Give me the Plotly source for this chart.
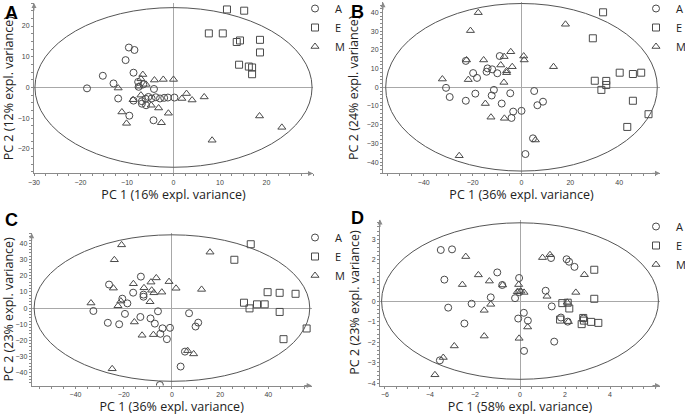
import plotly.graph_objects as go

W, H = 685, 415

# ---------------- Panel A data ----------------
pA_A_x = [-18.6, -15.2, -12.9, -11.9, -9.6, -8.4, -10.3, -8.6, -9.5, -8.6, -7.5, -7.6, -6.5, -6.8, -6.0, -5.4, -4.7, -4.2, -4.3, -3.8, -2.9, -2.0, -1.2, 0.2, -5.9, -6.8]
pA_A_y = [-0.3, 3.8, 1.3, -3.6, 13.0, 12.2, 8.9, 4.8, -9.2, -4.3, 0.2, 1.8, 1.0, -5.3, -3.7, -3.1, -3.6, -0.5, -10.7, -3.2, -3.6, -3.4, -3.3, -3.3, -5.8, -4.5]
pA_E_x = [11.5, 15.2, 7.6, 10.6, 13.6, 14.3, 18.6, 18.6, 14.1, 16.2, 16.9, 16.9]
pA_E_y = [25.4, 25.0, 17.6, 17.6, 14.8, 15.3, 15.5, 11.4, 7.4, 6.8, 6.5, 4.3]
pA_M_x = [-11.9, -11.1, -10.1, -8.7, -6.6, -7.0, -5.9, -4.1, -2.2, 0.0, -7.0, -4.8, -3.2, -1.1, -2.6, 1.8, 2.8, 4.0, 6.6, 8.3, 18.5, 23.3, -7.4]
pA_M_y = [-0.2, -8.0, -11.7, -4.0, 4.2, 2.8, 1.0, 2.4, 2.6, 2.6, -2.5, -5.8, -6.7, -8.4, -11.5, -3.6, -2.0, -4.1, -3.1, -17.2, -9.3, -13.0, 0.4]

# ---------------- Panel B data ----------------
pB_A_x = [-22.8, -19.8, -18.2, -30.9, -29.4, -22.8, -18.9, -13.9, -12.0, -9.9, -14.3, -11.3, -12.2, -8.1, -8.9, -4.6, 5.2, 8.8, 6.5, 0.0, -3.4, -4.1, 4.7, 1.6]
pB_A_y = [14.1, 7.6, 5.0, -0.3, -5.2, -7.2, -3.4, 10.1, 9.6, 7.5, 8.3, -1.4, -4.4, -8.7, 16.7, -3.2, -2.0, -7.7, -9.6, -12.6, -13.0, -16.4, -27.3, -35.7]
pB_E_x = [33.4, 29.2, 30.0, 32.7, 34.7, 34.7, 40.2, 45.6, 49.0, 45.6, 52.0, 43.3]
pB_E_y = [40.1, 26.2, 3.5, -1.4, 3.4, 1.2, 7.8, 7.1, 7.8, -7.2, -14.4, -21.2]
pB_M_x = [-17.7, -20.9, -32.4, -21.8, -15.5, -14.8, -12.5, -7.0, -25.5, -8.5, -7.2, -6.1, -6.1, -7.1, -4.4, 0.9, 1.1, -3.8, 13.1, 18.0, 5.7, -22.5]
pB_M_y = [39.9, 30.3, 4.4, 4.1, 14.6, -8.7, -16.0, -16.6, -36.6, 11.9, 2.6, 7.8, 8.8, 16.4, 19.0, 16.7, 14.6, 11.0, 11.0, 33.7, -28.2, 14.6]

# ---------------- Panel C data ----------------
pC_A_x = [-26.1, -20.6, -18.5, -32.6, -26.6, -21.9, -19.5, -16.1, -12.9, -11.8, -11.8, -13.1, -8.9, -5.8, -7.1, -3.9, -0.8, -4.8, -2.1, -5.0, 7.1, 10.9, 9.8, 5.4, 3.6]
pC_A_y = [14.5, 5.8, 2.9, -1.8, -9.1, -10.0, -3.6, 9.5, 19.4, 8.3, 7.0, -5.5, -6.4, -2.0, -9.6, -12.5, -12.2, -15.9, -19.2, -47.5, -3.2, -9.0, -11.4, -26.9, -36.1]
pC_E_x = [32.7, 25.9, 39.7, 44.7, 51.3, 29.9, 32.2, 35.3, 38.5, 44.7, 55.9, 46.3]
pC_E_y = [39.4, 29.8, 9.8, 9.4, 8.8, 3.3, -0.2, 2.3, 2.3, -2.4, -12.6, -19.2]
pC_M_x = [-20.9, -23.9, -24.3, -33.6, -22.4, -21.2, -16.0, -11.6, -8.7, -6.5, -8.4, -7.5, -4.2, -1.2, 1.7, -9.1, -15.6, -12.4, -7.7, -24.8, 12.3, 15.8, 6.5, 9.0]
pC_M_y = [39.0, 29.8, 12.3, 3.1, 1.4, 4.3, 15.0, 12.5, 16.0, 18.6, 11.0, 9.4, 9.8, 16.3, 12.2, 3.9, -8.6, -16.8, -16.4, -37.5, 11.5, 34.5, -26.3, -28.3]

# ---------------- Panel D data ----------------
pD_A_x = [-3.52, -3.02, -3.36, -3.19, -2.15, -2.47, -1.01, -0.79, -1.30, -3.56, -0.04, -0.03, -0.22, 0.17, -0.08, 0.35, 0.18, 1.38, 2.07, 2.18, 2.42, 1.14, 1.41, 1.52, 1.82, 2.12, 2.82]
pD_A_y = [2.48, 2.51, 1.04, -0.32, -0.13, -1.09, 1.39, 0.78, 0.18, -2.88, 1.12, 0.43, 0.14, -0.57, -0.85, -0.95, -2.42, 2.09, 2.03, 1.91, 1.66, 0.50, -0.26, -1.97, -0.80, -1.00, -0.85]
pD_E_x = [3.30, 3.30, 1.88, 2.12, 2.19, 1.78, 2.81, 2.84, 2.74, 3.16, 3.48]
pD_E_y = [1.52, 0.11, -0.10, -0.08, -0.36, -0.90, -0.82, -0.95, -1.12, -1.01, -1.06]
pD_M_x = [-2.41, -1.85, -1.36, -2.56, -0.77, -1.30, -1.59, -1.59, -2.92, -3.41, -3.78, -0.06, -0.12, 0.04, 0.18, 0.34, -0.04, 1.00, 1.33, 1.20, 2.48, 2.86, 2.10, 2.15]
pD_M_y = [2.16, 1.27, 0.97, 0.80, 0.78, -0.16, -0.45, -1.70, -2.18, -2.74, -3.58, 0.80, 0.45, 0.48, 0.42, -1.26, -1.81, 2.11, 2.25, 0.23, 0.42, 1.28, -0.06, -1.00]

groups = ["A", "E", "M"]
symbols = {"A": "circle-open", "E": "square-open", "M": "triangle-up-open"}

panel_letters = ["A", "B", "C", "D"]
x_titles = ["PC 1 (16% expl. variance)", "PC 1 (36% expl. variance)",
            "PC 1 (36% expl. variance)", "PC 1 (58% expl. variance)"]
y_titles = ["PC 2 (12% expl. variance)", "PC 2 (24% expl. variance)",
            "PC 2 (23% expl. variance)", "PC 2 (23% expl. variance)"]
x_tickvals = [[-30, -20, -10, 0, 10, 20], [-40, -20, 0, 20, 40],
              [-40, -20, 0, 20, 40], [-6, -4, -2, 0, 2, 4]]
y_tickvals = [[-20, -10, 0, 10, 20], [-40, -30, -20, -10, 0, 10, 20, 30, 40],
              [-40, -30, -20, -10, 0, 10, 20, 30, 40], [-4, -3, -2, -1, 0, 1, 2, 3]]

data = {
    "A": {"A": (pA_A_x, pA_A_y), "E": (pA_E_x, pA_E_y), "M": (pA_M_x, pA_M_y)},
    "B": {"A": (pB_A_x, pB_A_y), "E": (pB_E_x, pB_E_y), "M": (pB_M_x, pB_M_y)},
    "C": {"A": (pC_A_x, pC_A_y), "E": (pC_E_x, pC_E_y), "M": (pC_M_x, pC_M_y)},
    "D": {"A": (pD_A_x, pD_A_y), "E": (pD_E_x, pD_E_y), "M": (pD_M_x, pD_M_y)},
}

# layout geometry (pixels) and ranges
geo = {
    "A": dict(xr=[-30, 30], yr=[-28, 27.5], xpx=[34, 313], ypx=[3, 173.4], ell=(29.8, 26.0),
              mx=2.5, my=2.5, leg=(295, -6), letter=(11, 13)),
    "B": dict(xr=[-56.7, 56.7], yr=[-46, 45.5], xpx=[383, 660], ypx=[2.2, 173.3], ell=(55.6, 44.8),
              mx=5, my=2, leg=(636, -6), letter=(357, 12)),
    "C": dict(xr=[-58.2, 58], yr=[-47.8, 46.2], xpx=[31.7, 311.7], ypx=[233.2, 385.5], ell=(57.2, 45.2),
              mx=5, my=2, leg=(295, 223), letter=(11, 220)),
    "D": dict(xr=[-6.22, 6.22], yr=[-4.1, 3.96], xpx=[380, 660], ypx=[219.5, 385.5], ell=(6.15, 3.8),
              mx=0.5, my=0.2, leg=(636, 212), letter=(357, 218)),
}

fig = go.Figure()
mcol = "#4a4a4a"
axcol = "#8a8a8a"
tickfont = dict(family="Liberation Sans", size=7, color="#444")
titlefont = dict(family="Open Sans", size=12.5, color="#222")

layout_updates = {}
for i, p in enumerate(panel_letters):
    g = geo[p]
    sfx = "" if i == 0 else str(i + 1)
    xa, ya = "x" + sfx, "y" + sfx
    legname = "legend" + sfx
    for grp in groups:
        xs, ys = data[p][grp]
        fig.add_trace(go.Scatter(
            x=xs, y=ys, mode="markers", name=grp, xaxis=xa, yaxis=ya,
            legend=legname,
            marker=dict(symbol=symbols[grp], size=7, color=mcol, line=dict(width=1, color=mcol)),
        ))
    layout_updates["xaxis" + sfx] = dict(
        domain=[g["xpx"][0] / W, g["xpx"][1] / W], range=g["xr"], anchor=ya,
        showgrid=False, zeroline=True, zerolinecolor="#a8a8a8", zerolinewidth=1,
        showline=True, linecolor=axcol, linewidth=1, ticks="outside", ticklen=2,
        tickcolor=axcol, tickvals=x_tickvals[i], tickfont=tickfont,
        minor=dict(ticks="outside", ticklen=2, dtick=g["mx"], tickcolor=axcol, showgrid=False),
        title=dict(text=x_titles[i], font=titlefont, standoff=2),
    )
    layout_updates["yaxis" + sfx] = dict(
        domain=[1 - g["ypx"][1] / H, 1 - g["ypx"][0] / H], range=g["yr"], anchor=xa,
        showgrid=False, zeroline=True, zerolinecolor="#a8a8a8", zerolinewidth=1,
        showline=True, linecolor=axcol, linewidth=1, ticks="outside", ticklen=2,
        tickcolor=axcol, tickvals=y_tickvals[i], tickfont=tickfont,
        minor=dict(ticks="outside", ticklen=2, dtick=g["my"], tickcolor=axcol, showgrid=False),
        title=dict(text=y_titles[i], font=titlefont, standoff=5),
    )
    layout_updates[legname] = dict(
        x=g["leg"][0] / W, y=1 - g["leg"][1] / H, xanchor="left", yanchor="top",
        bgcolor="rgba(0,0,0,0)", font=dict(family="Open Sans", size=11, color="#222"),
        itemwidth=30, tracegroupgap=0,
    )
    a, b = g["ell"]
    fig.add_shape(type="circle", xref=xa, yref=ya, x0=-a, x1=a, y0=-b, y1=b,
                  line=dict(color="#555", width=1))
    # axis arrows
    fig.add_annotation(x=g["xr"][1], y=g["yr"][0], xref=xa, yref=ya, ax=-9, ay=0,
                       axref="pixel", ayref="pixel", text="", showarrow=True,
                       arrowhead=2, arrowsize=1, arrowwidth=1, arrowcolor=axcol)
    fig.add_annotation(x=g["xr"][0], y=g["yr"][1], xref=xa, yref=ya, ax=0, ay=9,
                       axref="pixel", ayref="pixel", text="", showarrow=True,
                       arrowhead=2, arrowsize=1, arrowwidth=1, arrowcolor=axcol)
    # panel letter
    fig.add_annotation(x=g["letter"][0] / W, y=1 - g["letter"][1] / H, xref="paper", yref="paper",
                       text="<b>%s</b>" % p, showarrow=False, xanchor="center", yanchor="middle",
                       font=dict(family="Liberation Sans", size=18, color="#000"))

fig.update_layout(
    width=W, height=H, autosize=False,
    margin=dict(l=0, r=0, t=0, b=0, autoexpand=False),
    paper_bgcolor="white", plot_bgcolor="white",
    showlegend=True,
    **layout_updates,
)

fig.write_html("out.html", config={"displayModeBar": False},
               post_script="document.body.style.margin='0px';")
